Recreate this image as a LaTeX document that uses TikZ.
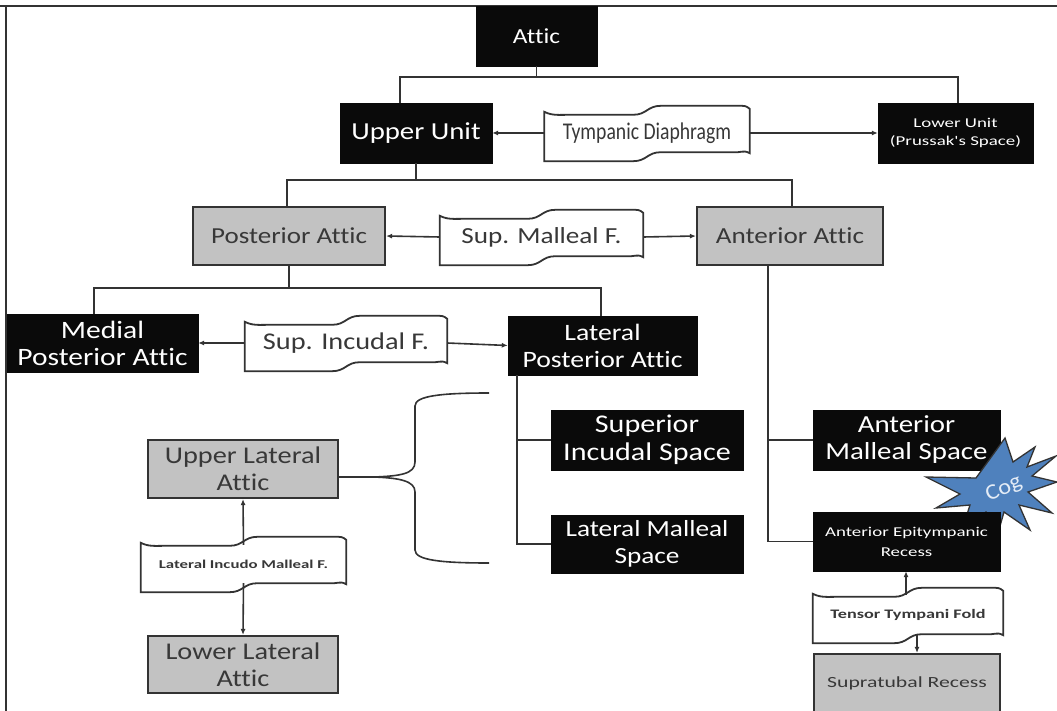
\documentclass[tikz,border=0pt]{standalone}
\usepackage{fontspec}
\setmainfont{Carlito}[FakeStretch=1.18,Ligatures=NoCommon]
\newfontfamily\widefont{Carlito}[FakeStretch=1.4,Ligatures=NoCommon]
\newfontfamily\narrowfont{Carlito}[FakeStretch=0.82,Ligatures=NoCommon]
\newfontfamily\plainfont{Carlito}[FakeStretch=1.1,Ligatures=NoCommon]
\usetikzlibrary{calc,arrows.meta,backgrounds}

\definecolor{boxblack}{HTML}{0A0A0A}
\definecolor{boxgray}{HTML}{C2C2C2}
\definecolor{linec}{HTML}{333333}
\definecolor{graytext}{HTML}{383838}
\definecolor{cogblue}{HTML}{4F81BD}
\definecolor{cogtext}{HTML}{E4ECF6}

\tikzset{
 big/.style={font=\fontsize{23}{27}\selectfont},
 blk/.style={rectangle, fill=boxblack, draw=boxblack, text=white, align=center, inner sep=1pt, big},
 gry/.style={rectangle, fill=boxgray, draw=linec, line width=2.2pt, text=graytext, align=center, inner sep=1pt, big},
 bnr/.style={rectangle, inner sep=1pt, text=graytext, align=center, big},
 conn/.style={draw=linec, line width=1.6pt},
 arr/.style={conn, -{Latex[length=6pt,width=5pt]}},
 wavestyle/.style={draw=linec, line width=1.8pt, fill=white},
}

\newcommand\wavedraw[1]{%
 \draw[wavestyle]
  ($(#1.north west)+(0,2)$) .. controls ($(#1.north west)+(8,6)$) and ($(#1.north west)+(14,5)$) .. ($(#1.north west)+(26,5)$)
  -- ($(#1.north)+(-14,5)$) .. controls ($(#1.north)+(0,5)$) and ($(#1.north)+(0,-4)$) .. ($(#1.north)+(14,-4)$)
  -- ($(#1.north east)+(-12,-4)$) .. controls ($(#1.north east)+(-4,-4)$) .. ($(#1.north east)+(0,-1)$)
  -- ($(#1.south east)+(0,-3)$)
  .. controls ($(#1.south east)+(-4,-5)$) .. ($(#1.south east)+(-12,-4)$)
  -- ($(#1.south)+(14,-4)$) .. controls ($(#1.south)+(0,-4)$) and ($(#1.south)+(0,5)$) .. ($(#1.south)+(-14,5)$)
  -- ($(#1.south west)+(0,5)$) -- cycle;}

\begin{document}
\begin{tikzpicture}[x=1pt,y=-1pt]
\useasboundingbox (0,0) rectangle (1057,711);
\begin{scope}[on background layer]
\fill[white] (0,0) rectangle (1057,711);
\end{scope}
% frame
\draw[linec, line width=1.5pt] (0,6) -- (1057,6);
\draw[linec, line width=1.5pt] (6,6) -- (6,711);

% nodes
\node[blk, minimum width=121pt, minimum height=60pt, font=\fontsize{21.5}{26}\selectfont] (attic) at (536.5,36) {Attic};
\node[blk, minimum width=152pt, minimum height=60pt, font=\fontsize{24.4}{27}\selectfont] (upper) at (416,133) {Upper Unit};
\node[bnr, minimum width=205pt, minimum height=46pt, font=\narrowfont\fontsize{24}{27}\selectfont] (tymp) at (647,133) {Tympanic Diaphragm};
\node[blk, minimum width=155pt, minimum height=60pt, font=\widefont\fontsize{13.5}{18}\selectfont] (lower) at (955.5,133) {Lower Unit\\(Prussak's Space)};

\node[gry, minimum width=192pt, minimum height=58pt, font=\fontsize{22.9}{27}\selectfont] (post) at (289,236) {Posterior Attic};
\node[bnr, minimum width=203pt, minimum height=46pt] (supmal) at (541.5,237) {Sup. Malleal F.};
\node[gry, minimum width=186pt, minimum height=58pt] (ant) at (790,236) {Anterior Attic};

\node[blk, minimum width=191pt, minimum height=58pt, font=\fontsize{25}{27}\selectfont] (medial) at (102.5,343) {Medial\\Posterior Attic};
\node[bnr, minimum width=202pt, minimum height=46pt, font=\fontsize{24}{27}\selectfont] (supinc) at (346,343) {Sup. Incudal F.};
\node[blk, minimum width=189pt, minimum height=59pt, font=\fontsize{23.5}{27}\selectfont] (latpost) at (602.5,345.5) {Lateral\\Posterior Attic};

\node[blk, minimum width=192pt, minimum height=60pt, font=\fontsize{25.5}{28}\selectfont] (supincsp) at (647,440) {Superior\\Incudal Space};
\node[blk, minimum width=192pt, minimum height=58pt, font=\fontsize{23.1}{27}\selectfont] (latmal) at (647,544) {Lateral Malleal\\Space};

\node[blk, minimum width=187pt, minimum height=60pt, font=\fontsize{24.5}{27}\selectfont] (antmal) at (906.5,440) {Anterior\\Malleal Space};

% cog star (over the Anterior Malleal Space box, under the Anterior Epitympanic Recess box)
\draw[fill=cogblue, draw=linec, line width=1.3pt]
  (1057,482) -- (1028,492) -- (1052,513) -- (1019,505) -- (1030,530) -- (1004,512)
  -- (998,533) -- (986,512) -- (963,527) -- (970,505) -- (936,508) -- (960,494)
  -- (926,477) -- (976,478) -- (1005,438) -- (1013,462) -- (1035,447) -- (1027,467)
  -- (1056,456) -- (1032,476) -- cycle;

\node[blk, minimum width=187pt, minimum height=59pt, font=\widefont\fontsize{13.5}{20}\selectfont] (antepi) at (906.5,541.5) {Anterior Epitympanic\\Recess};
\node[bnr, minimum width=190pt, minimum height=46pt, font=\widefont\bfseries\fontsize{13}{16}\selectfont] (tensor) at (908,615) {Tensor Tympani Fold};
\node[gry, minimum width=186pt, minimum height=58pt, font=\widefont\fontsize{15.5}{18}\selectfont] (supra) at (907,683) {Supratubal Recess};

\node[gry, minimum width=190pt, minimum height=58pt, font=\fontsize{24}{27}\selectfont] (upperlat) at (243,469) {Upper Lateral\\Attic};
\node[bnr, minimum width=205pt, minimum height=46pt, font=\widefont\bfseries\fontsize{12}{14}\selectfont] (licm) at (243.5,564) {Lateral Incudo Malleal F.};
\node[gry, minimum width=190pt, minimum height=57pt, font=\fontsize{24}{27}\selectfont] (lowerlat) at (243,664.5) {Lower Lateral\\Attic};

\node[text=cogtext, rotate=24, inner sep=0pt, font=\plainfont\fontsize{22}{24}\selectfont] (cog) at (1004,489) {Cog};

% banners behind text
\begin{scope}[on background layer]
\wavedraw{tymp}
\wavedraw{supmal}
\wavedraw{supinc}
\wavedraw{tensor}
\wavedraw{licm}
\end{scope}

% tree connectors
\draw[conn] (attic.south) -- ++(0,11) coordinate (j1);
\draw[conn] ($(upper.north)+(-16,0)$) |- (j1) -| ($(lower.north)+(2.5,0)$);
\draw[conn] (upper.south) -- ++(0,17) coordinate (j2);
\draw[conn] ($(post.north)+(-2,0)$) |- (j2) -| ($(ant.north)+(2,0)$);
\draw[conn] (post.south) -- ++(0,22) coordinate (j3);
\draw[conn] ($(medial.north)+(-8.5,0)$) |- (j3) -| ($(latpost.north)+(-1.5,0)$);

\coordinate (lp) at ($(latpost.south west)+(9,0)$);
\draw[conn] (lp) |- (latmal.west);
\draw[conn] (lp |- supincsp.west) -- (supincsp.west);
\coordinate (aa) at ($(ant.south)+(-22,0)$);
\draw[conn] (aa) |- (antepi.west);
\draw[conn] (aa |- antmal.west) -- (antmal.west);

% fold arrows
\draw[arr] (tymp.west) -- (upper.east);
\draw[arr] (tymp.east) -- (lower.west);
\draw[arr] (supmal.west) -- (post.east);
\draw[arr] (supmal.east) -- (ant.west);
\draw[arr] (supinc.west) -- (medial.east);
\draw[arr] (supinc.east) -- (latpost.west);
\draw[arr] ($(licm.north)+(0,4)$) -- (upperlat.south);
\draw[arr] ($(licm.south)+(0,-4)$) -- (lowerlat.north);
\draw[arr] ($(tensor.north)+(-2,3)$) -- (antepi.south -| {$(tensor.north)+(-2,0)$});
\draw[arr] ($(tensor.south)+(9,-4)$) -- (supra.north -| {$(tensor.south)+(9,0)$});

% brace
\coordinate (bt) at (374,477);
\draw[conn] (upperlat.east |- bt) -- (bt);
\draw[conn] (bt) .. controls (400,476) and (415,474) .. (415,462) -- (415,406)
  .. controls (415,396) and (440,393) .. (489,393);
\draw[conn] (bt) .. controls (400,478) and (415,481) .. (415,492) -- (415,550)
  .. controls (415,560) and (440,563) .. (489,563);
\end{tikzpicture}
\end{document}
